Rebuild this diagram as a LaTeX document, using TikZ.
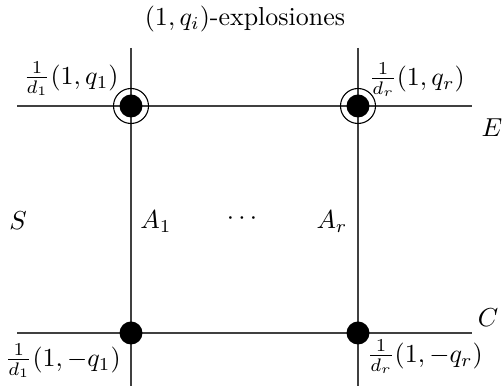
\documentclass[tikz,border=0pt]{standalone}
\begin{document}
\begin{tikzpicture}[x=0.385pt,y=-0.385pt,
  curve/.style={draw=black!75,line width=0.42pt},
  dot/.style={circle,fill=black,inner sep=0pt,minimum size=23*0.385pt},
  ring/.style={circle,draw=black,line width=0.42pt,inner sep=0pt,minimum size=35*0.385pt},
  lbl/.style={inner sep=0pt}]
\useasboundingbox (0,0) rectangle (503,386);
% line ends
\coordinate (eL) at (17,106);
\coordinate (eR) at (472,106);
\coordinate (cL) at (17,333);
\coordinate (cR) at (472,333);
\coordinate (a1T) at (131,48);
\coordinate (a1B) at (131,386);
\coordinate (arT) at (358,48);
\coordinate (arB) at (358,386);
\draw[curve] (eL) -- (eR);
\draw[curve] (cL) -- (cR);
\draw[curve] (a1T) -- (a1B);
\draw[curve] (arT) -- (arB);
% points
\node[ring] (r1) at (131,106) {};
\node[ring] (r2) at (358,106) {};
\node[dot] (p1) at (131,106) {};
\node[dot] (p2) at (358,106) {};
\node[dot] (p3) at (131,333) {};
\node[dot] (p4) at (358,333) {};
% labels
\node[lbl] (title) at (245,19) {$(1,q_i)$-explosiones};
\node[lbl] (l1) at (71,79) {$\frac{1}{d_1}(1,q_1)$};
\node[lbl] (l2) at (417,80) {$\frac{1}{d_r}(1,q_r)$};
\node[lbl] (l3) at (63,361) {$\frac{1}{d_1}(1,-q_1)$};
\node[lbl] (l4) at (425,357) {$\frac{1}{d_r}(1,-q_r)$};
\node[lbl] (E) at (492,128) {$E$};
\node[lbl] (C) at (488,318) {$C$};
\node[lbl] (S) at (18,221) {$S$};
\node[lbl] (A1) at (156,222) {$A_1$};
\node[lbl] (dots) at (242,219) {$\cdots$};
\node[lbl] (Ar) at (332,222) {$A_r$};
\end{tikzpicture}
\end{document}
